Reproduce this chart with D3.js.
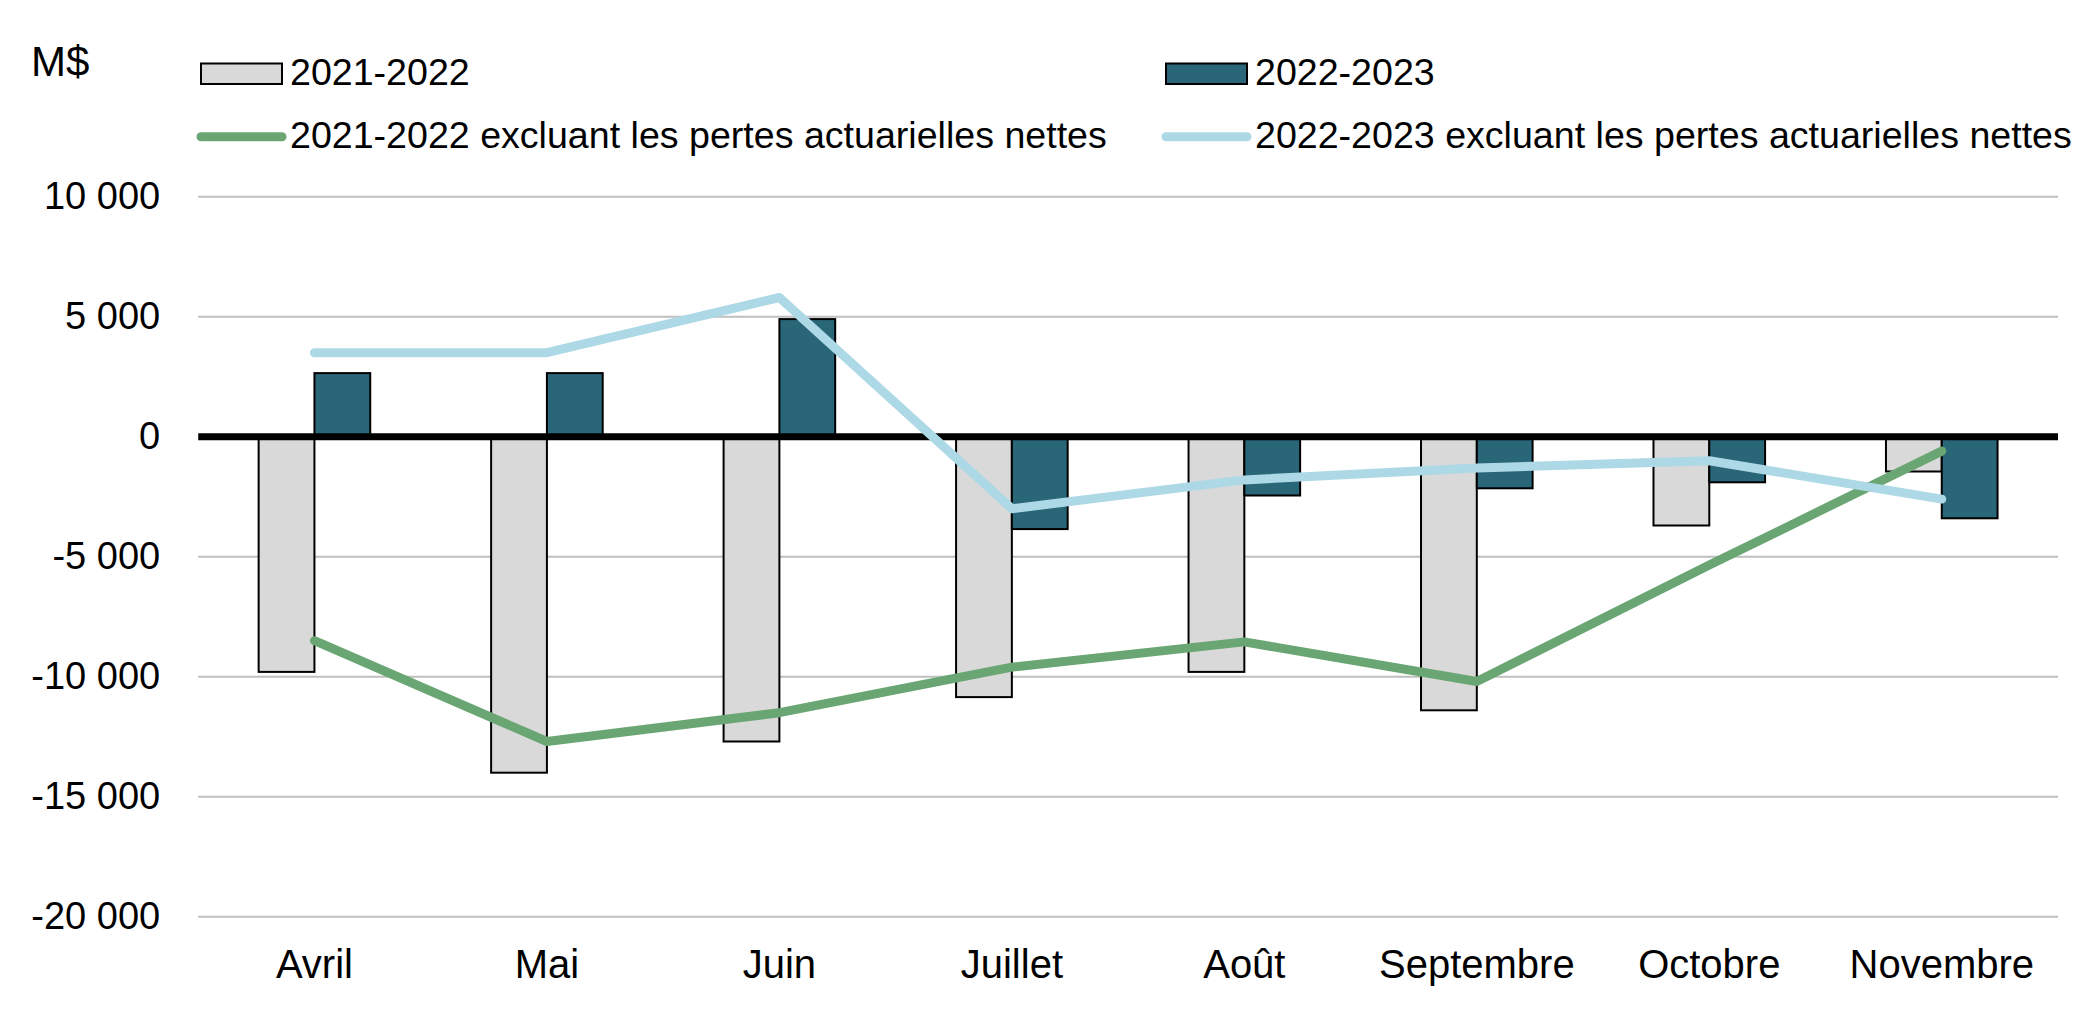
<!DOCTYPE html>
<html>
<head>
<meta charset="utf-8">
<script src="https://cdn.jsdelivr.net/npm/d3@7"></script>
<style>
    html, body { margin: 0; padding: 0; background: #ffffff; }
    svg { display: block; }
    text { font-family: "Liberation Sans", Arial, sans-serif; fill: #000000; }
</style>
</head>
<body>
<div id="chart"></div>
<script>
// Months on the x-axis
const months = ["Avril", "Mai", "Juin", "Juillet", "Août", "Septembre", "Octobre", "Novembre"];

// Bar series (M$)
const bars2122 = [-9800, -14000, -12700, -10850, -9800, -11400, -3700, -1450];
const bars2223 = [2650, 2650, 4900, -3850, -2450, -2150, -1900, -3400];

// Line series (M$)
const excl2122 = [-8500, -12700, -11500, -9600, -8550, -10200, -5350, -600];
const excl2223 = [3500, 3500, 5800, -3000, -1800, -1300, -1000, -2600];

// Legend labels
const barLabels = ["2021-2022", "2022-2023"];
const lineLabels = ["2021-2022 excluant les pertes actuarielles nettes", "2022-2023 excluant les pertes actuarielles nettes"];

// y-axis ticks
const yTicks = [-20000, -15000, -10000, -5000, 0, 5000, 10000];

const width = 2098;
const height = 1019;

// Plot box
const margin = { top: 196.7, right: 40, bottom: 102.3, left: 198.2 };

const colors = {
    gray: "#d9d9d9",
    teal: "#296678",
    green: "#6aa673",
    blue: "#add8e6",
    grid: "#bfbfbf"
};

// Font sizes
const tickFont = 38;
const monthFont = 40;
const legendFont = 37.6;
const unitFont = 42;

const svg = d3.select("#chart").append("svg")
    .attr("width", width)
    .attr("height", height);

// Scales
const xScale = d3.scaleBand()
    .domain(months)
    .range([margin.left, width - margin.right])
    .padding(0);

const yScale = d3.scaleLinear()
    .domain([-20000, 10000])
    .range([height - margin.bottom, margin.top]);

const barWidth = xScale.bandwidth() * 0.24;
const center = m => xScale(m) + xScale.bandwidth() / 2;

const locale = d3.formatLocale({ decimal: ",", thousands: " ", grouping: [3], currency: ["", " $"], minus: "-" });
const fmt = locale.format(",");

// Gridlines
svg.append("g")
    .selectAll("line")
    .data(yTicks.filter(d => d !== 0))
    .join("line")
    .attr("x1", margin.left)
    .attr("x2", width - margin.right)
    .attr("y1", d => yScale(d))
    .attr("y2", d => yScale(d))
    .attr("stroke", colors.grid)
    .attr("stroke-width", 2);

// y-axis
const yAxis = d3.axisLeft(yScale).tickValues(yTicks).tickFormat(fmt).tickSize(0).tickPadding(38);
const yAxisGroup = svg.append("g")
    .attr("transform", `translate(${margin.left},0)`)
    .call(yAxis);
yAxisGroup.select(".domain").remove();
yAxisGroup.selectAll("text")
    .style("font-size", tickFont + "px")
    .style("font-family", "\"Liberation Sans\", Arial, sans-serif")
    .attr("fill", "#000");

// x-axis labels
const xAxis = d3.axisBottom(xScale).tickSize(0).tickPadding(0);
const xAxisGroup = svg.append("g")
    .attr("transform", `translate(0,${yScale(-20000)})`)
    .call(xAxis);
xAxisGroup.select(".domain").remove();
xAxisGroup.selectAll("text")
    .attr("y", 61.5)
    .attr("dy", 0)
    .style("font-size", monthFont + "px")
    .style("font-family", "\"Liberation Sans\", Arial, sans-serif")
    .attr("fill", "#000");

// Bars
const barGroup = svg.append("g");
barGroup.selectAll(".bar-2122")
    .data(months)
    .join("rect")
    .attr("class", "bar-2122")
    .attr("x", m => center(m) - barWidth)
    .attr("width", barWidth)
    .attr("y", (m, i) => yScale(Math.max(0, bars2122[i])))
    .attr("height", (m, i) => Math.abs(yScale(bars2122[i]) - yScale(0)))
    .attr("fill", colors.gray)
    .attr("stroke", "#000")
    .attr("stroke-width", 2);

barGroup.selectAll(".bar-2223")
    .data(months)
    .join("rect")
    .attr("class", "bar-2223")
    .attr("x", m => center(m))
    .attr("width", barWidth)
    .attr("y", (m, i) => yScale(Math.max(0, bars2223[i])))
    .attr("height", (m, i) => Math.abs(yScale(bars2223[i]) - yScale(0)))
    .attr("fill", colors.teal)
    .attr("stroke", "#000")
    .attr("stroke-width", 2);

// Zero line
svg.append("line")
    .attr("x1", margin.left)
    .attr("x2", width - margin.right)
    .attr("y1", yScale(0))
    .attr("y2", yScale(0))
    .attr("stroke", "#000")
    .attr("stroke-width", 7);

// Lines
const line = d3.line()
    .x((d, i) => center(months[i]))
    .y(d => yScale(d));

[[excl2122, colors.green], [excl2223, colors.blue]].forEach(([data, color]) => {
    svg.append("path")
        .datum(data)
        .attr("d", line)
        .attr("fill", "none")
        .attr("stroke", color)
        .attr("stroke-width", 9)
        .attr("stroke-linejoin", "round")
        .attr("stroke-linecap", "round");
});

// Unit label
svg.append("text")
    .attr("x", 31)
    .attr("y", 76)
    .style("font-size", unitFont + "px")
    .text("M$");

// Legend
const legendCols = [201, 1166];
const legend = svg.append("g").attr("class", "legend");

barLabels.forEach((label, i) => {
    legend.append("rect")
        .attr("x", legendCols[i])
        .attr("y", 63.5)
        .attr("width", 81)
        .attr("height", 20.5)
        .attr("fill", i === 0 ? colors.gray : colors.teal)
        .attr("stroke", "#000")
        .attr("stroke-width", 2);
    legend.append("text")
        .attr("x", legendCols[i] + 89)
        .attr("y", 85)
        .style("font-size", legendFont + "px")
        .text(label);
});

lineLabels.forEach((label, i) => {
    legend.append("line")
        .attr("x1", legendCols[i])
        .attr("x2", legendCols[i] + 81)
        .attr("y1", 136.7)
        .attr("y2", 136.7)
        .attr("stroke", i === 0 ? colors.green : colors.blue)
        .attr("stroke-width", 9)
        .attr("stroke-linecap", "round");
    legend.append("text")
        .attr("x", legendCols[i] + 89)
        .attr("y", 148)
        .style("font-size", legendFont + "px")
        .text(label);
});
</script>
</body>
</html>
